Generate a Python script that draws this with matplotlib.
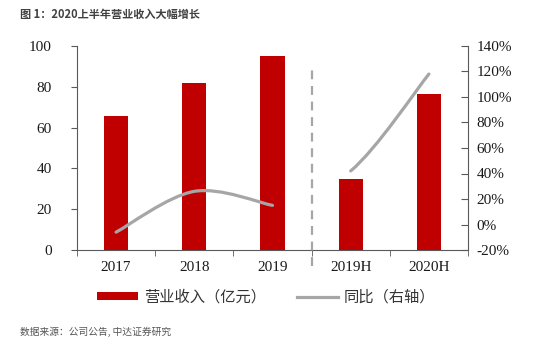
import matplotlib
matplotlib.use("Agg")
import matplotlib.pyplot as plt
from matplotlib.path import Path
from matplotlib.patches import PathPatch, Patch
from matplotlib.lines import Line2D
import numpy as np

categories = ["2017", "2018", "2019", "2019H", "2020H"]
revenue = [65.5, 82, 95, 35, 76.5]
yoy_annual = [-6, 26, 15]          # % for 2017-2019
yoy_half = [42, 118]               # % for 2019H, 2020H
left_ticks = [0, 20, 40, 60, 80, 100]
right_ticks = [-20, 0, 20, 40, 60, 80, 100, 120, 140]

BAR = "#C00000"
LINE = "#A6A6A6"
SPINE = "#595959"

plt.rcParams['font.family'] = ['Liberation Serif', 'Noto Sans CJK SC']

fig = plt.figure(figsize=(5.54, 3.48), dpi=100)
ax = fig.add_axes([77/554, 1-250/348, (468-77)/554, (250-46)/348])
ax2 = ax.twinx()

x = np.arange(len(categories))
ax.bar(x, revenue, width=0.31, color=BAR, zorder=2)
ax.set_xlim(-0.5, 4.5)
ax.set_ylim(0, 100)
ax.set_yticks(left_ticks)
ax.set_yticklabels([str(t) for t in left_ticks], fontsize=11, color="#1a1a1a")
ax.set_xticks(x)
ax.set_xticklabels(categories, fontsize=11, color="#1a1a1a")
ax.set_xticks(np.arange(-0.5, 5.0, 1.0), minor=True)
ax.tick_params(axis='x', which='major', length=0, pad=8)
ax.tick_params(axis='x', which='minor', length=4, color=SPINE, direction='out')
ax.tick_params(axis='y', length=4, color=SPINE, direction='out', pad=14)

ax2.set_ylim(-20, 140)
ax2.set_yticks(right_ticks)
ax2.set_yticklabels([f"{t}%" for t in right_ticks], fontsize=11, color="#1a1a1a")
ax2.tick_params(axis='y', length=5, color=SPINE, direction='in', pad=6)

for a in (ax, ax2):
    a.spines['top'].set_visible(False)
    for s in ('left', 'right', 'bottom'):
        a.spines[s].set_color(SPINE)
ax.spines['right'].set_visible(False)
ax2.spines['left'].set_visible(False)
ax2.spines['bottom'].set_visible(False)


def smooth_path(xs, ys, start_lead=None):
    pts = np.column_stack([xs, ys]).astype(float)
    n = len(pts)
    verts = [pts[0]]
    codes = [Path.MOVETO]
    for i in range(n - 1):
        if i > 0:
            p0 = pts[i - 1]
        elif start_lead is not None:
            p0 = np.array(start_lead, dtype=float)
        else:
            p0 = pts[i]
        p1 = pts[i]
        p2 = pts[i + 1]
        p3 = pts[i + 2] if i + 2 < n else pts[i + 1]
        c1 = p1 + (p2 - p0) / 6.0
        c2 = p2 - (p3 - p1) / 6.0
        verts += [c1, c2, p2]
        codes += [Path.CURVE4] * 3
    return Path(verts, codes)


paths = [smooth_path(x[:3], yoy_annual),
         smooth_path(x[3:], yoy_half, start_lead=(x[2], yoy_annual[-1]))]
for p in paths:
    patch = PathPatch(p, facecolor='none', edgecolor=LINE,
                      lw=2.3, capstyle='round', zorder=3)
    ax2.add_patch(patch)

# dashed separator
ax.plot([2.5, 2.5], [-8, 88], ls=(0, (4, 3)), color="#A6A6A6", lw=1.6,
        clip_on=False, zorder=4)

# legend
handles = [Patch(facecolor=BAR, edgecolor='none'),
           Line2D([0], [0], color=LINE, lw=2.3)]
fig.legend(handles, ["营业收入（亿元）", "同比（右轴）"],
           loc='center', bbox_to_anchor=(266/554, 1-297/348), ncol=2,
           frameon=False, prop={'family': ['Noto Sans CJK SC'], 'size': 11},
           handlelength=2.7, handleheight=0.45, columnspacing=2.0,
           handletextpad=0.4, labelcolor="#333333")

fig.text(20/554, 1-14/348, "图 1：2020上半年营业收入大幅增长", fontsize=8,
         fontweight='bold', color="#404040", va='center', ha='left',
         family=['Noto Sans CJK SC'])
fig.text(20/554, 1-332/348, "数据来源：公司公告, 中达证券研究", fontsize=7,
         color="#555555", va='center', ha='left', family=['Noto Sans CJK SC'])

fig.savefig("out.png", dpi=100)
